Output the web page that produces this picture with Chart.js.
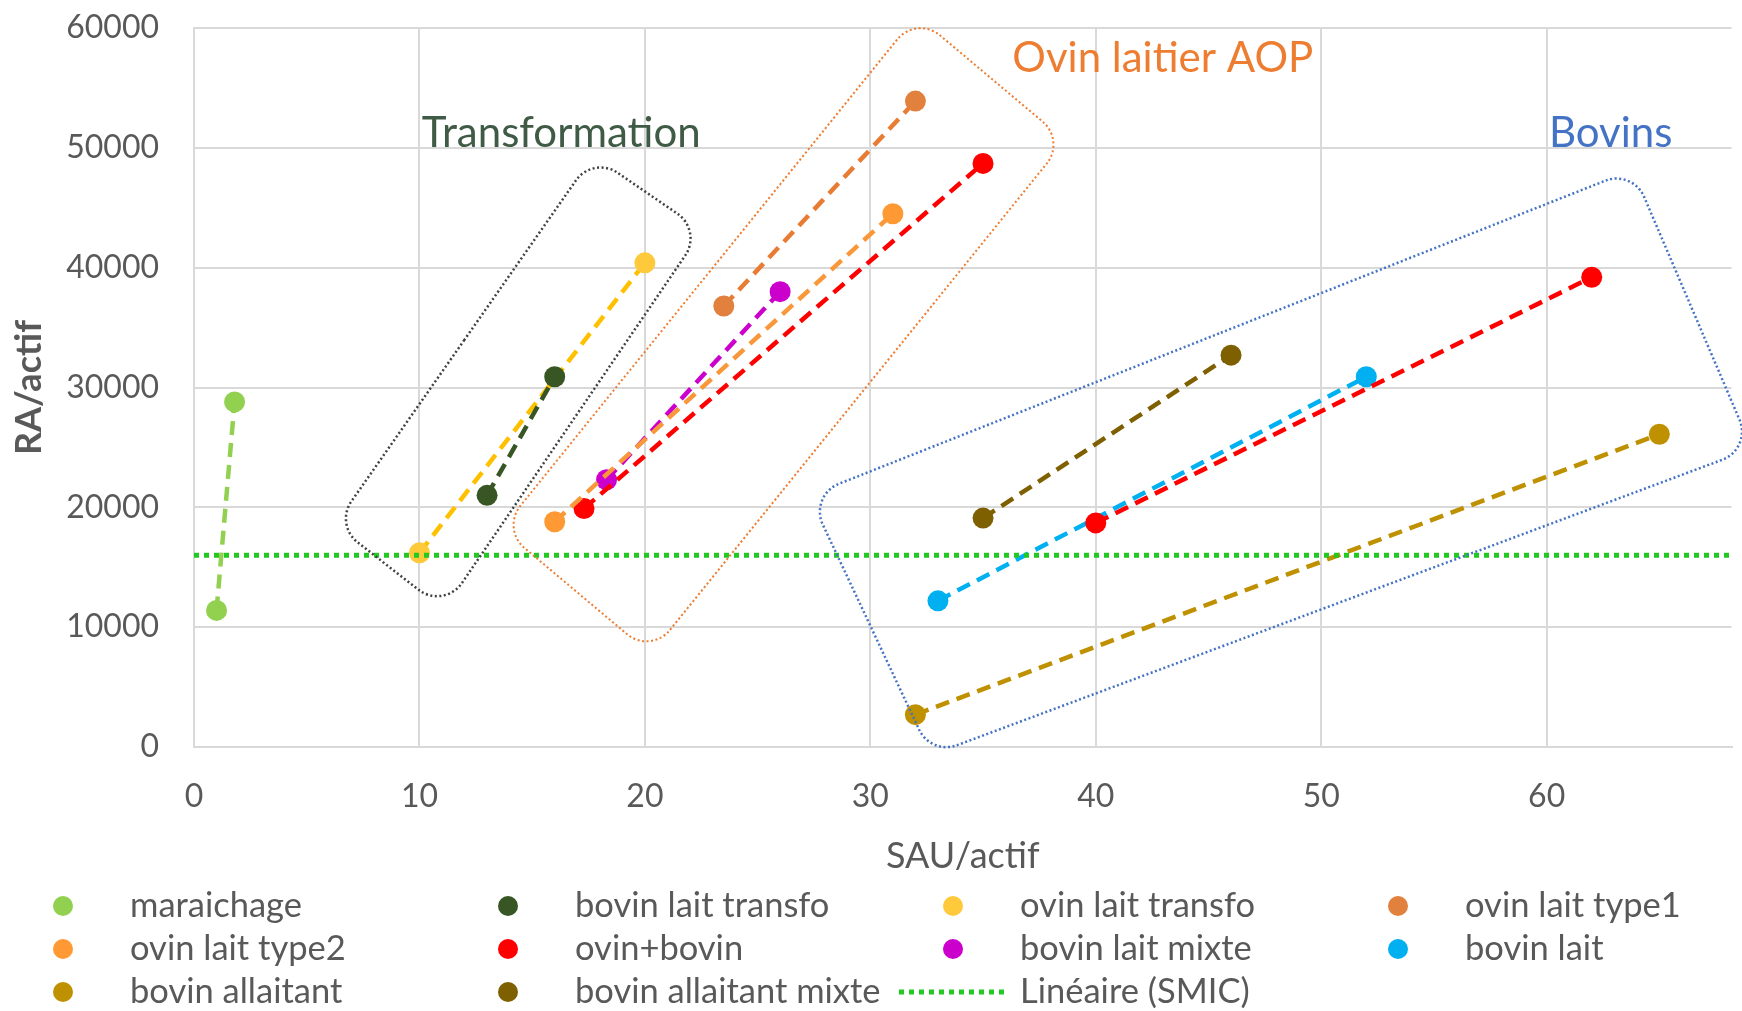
<!DOCTYPE html>
<html>

<head>
  <title>RA/actif vs SAU/actif</title>
  <script src="https://cdn.jsdelivr.net/npm/chart.js"></script>
  <style>
    html, body { margin: 0; padding: 0; background: #fff; overflow: hidden; }
    #wrap { width: 1742px; height: 1011px; position: relative; }
    canvas { display: block; }
  </style>
</head>

<body>
  <div id="wrap"><canvas id="myChart"></canvas></div>
  <script>

    // [SAU/actif, RA/actif] pairs
    let maraichage = [[1.0, 11400], [1.8, 28800]];
    let bovinLaitTransfo = [[13.0, 21000], [16.0, 30900]];
    let ovinLaitTransfo = [[10.0, 16200], [20.0, 40400]];
    let ovinLaitType1 = [[23.5, 36800], [32.0, 53900]];
    let ovinLaitType2 = [[16.0, 18800], [31.0, 44500]];
    let ovinBovin = [[17.3, 19900], [35.0, 48700], null, [40.0, 18700], [62.0, 39200]];
    let bovinLaitMixte = [[18.3, 22300], [26.0, 38000]];
    let bovinLait = [[33.0, 12200], [52.0, 30900]];
    let bovinAllaitant = [[32.0, 2700], [65.0, 26100]];
    let bovinAllaitantMixte = [[35.0, 19100], [46.0, 32700]];
    let smic = [[0, 16000], [70, 16000]];

    let xTicks = [0, 10, 20, 30, 40, 50, 60];
    let yTicks = [0, 10000, 20000, 30000, 40000, 50000, 60000];

    const FONT = 'Lato';
    const GREY = '#595959';

    function toPoints(arr) {
      return arr.map(p => p ? { x: p[0], y: p[1] } : { x: null, y: null });
    }

    function series(label, arr, color, pointColor) {
      return {
        label: label,
        data: toPoints(arr),
        showLine: true,
        borderColor: color,
        backgroundColor: pointColor || color,
        pointBackgroundColor: pointColor || color,
        pointBorderWidth: 0,
        pointRadius: 10.5,
        pointHoverRadius: 10.5,
        borderWidth: 4.5,
        borderDash: [14, 8],
        spanGaps: false
      };
    }

    let datasets = [
      series('maraichage', maraichage, '#92D050'),
      series('bovin lait transfo', bovinLaitTransfo, '#375623'),
      series('ovin lait transfo', ovinLaitTransfo, '#FFC000', '#FFC93C'),
      series('ovin lait type1', ovinLaitType1, '#E97C35', '#E2803E'),
      series('ovin lait type2', ovinLaitType2, '#F9983A', '#FF9933'),
      series('ovin+bovin', ovinBovin, '#FF0000'),
      series('bovin lait mixte', bovinLaitMixte, '#CC00CC'),
      series('bovin lait', bovinLait, '#00B0F0'),
      series('bovin allaitant', bovinAllaitant, '#BF9000'),
      series('bovin allaitant mixte', bovinAllaitantMixte, '#7F6000'),
      {
        label: 'Linéaire (SMIC)',
        data: toPoints(smic),
        showLine: true,
        borderColor: '#22C922',
        borderWidth: 5,
        borderDash: [5, 5],
        pointRadius: 0,
        isTrend: true,
        order: -1
      }
    ];

    // group outlines drawn over the plot (corners in data units)
    let groups = [
      { text: 'Transformation', color: '#3F5A45', boxColor: '#404040', width: 2.5,
        label: [10.1, 51200], box: [[17.8, 48300], [22.0, 42900], [11.0, 12500], [6.8, 18700]] },
      { text: 'Ovin laitier AOP', color: '#ED7D31', boxColor: '#ED7D31', width: 2,
        label: [36.3, 57500], box: [[32.1, 60000], [38.1, 50500], [20.2, 8800], [14.2, 18300]] },
      { text: 'Bovins', color: '#4472C4', boxColor: '#4472C4', width: 2.5,
        label: [60.1, 51200], box: [[63.6, 47200], [68.6, 25300], [32.9, 300], [27.8, 20600]] }
    ];

    const groupPlugin = {
      id: 'groups',
      afterDatasetsDraw(chart) {
        const ctx = chart.ctx, xs = chart.scales.x, ys = chart.scales.y;
        const r = 30;
        groups.forEach(g => {
          let pts = g.box.map(p => [xs.getPixelForValue(p[0]), ys.getPixelForValue(p[1])]);
          // push measured (rounded) apexes out to the sharp corners
          pts = pts.map((c, i) => {
            const a = pts[(i + 3) % 4], b = pts[(i + 1) % 4];
            let ux = a[0] - c[0], uy = a[1] - c[1], ul = Math.hypot(ux, uy);
            let vx = b[0] - c[0], vy = b[1] - c[1], vl = Math.hypot(vx, vy);
            let bx = ux / ul + vx / vl, by = uy / ul + vy / vl, bl = Math.hypot(bx, by);
            const d = r * (Math.SQRT2 - 1);
            return [c[0] - bx / bl * d, c[1] - by / bl * d];
          });
          ctx.save();
          ctx.beginPath();
          const m = [(pts[3][0] + pts[0][0]) / 2, (pts[3][1] + pts[0][1]) / 2];
          ctx.moveTo(m[0], m[1]);
          for (let i = 0; i < 4; i++) {
            const c = pts[i], n = pts[(i + 1) % 4];
            ctx.arcTo(c[0], c[1], n[0], n[1], r);
          }
          ctx.closePath();
          ctx.setLineDash([2, 2.5]);
          ctx.lineWidth = g.width;
          ctx.strokeStyle = g.boxColor;
          ctx.stroke();
          ctx.setLineDash([]);
          ctx.font = '42px ' + FONT;
          ctx.fillStyle = g.color;
          ctx.textBaseline = 'middle';
          ctx.textAlign = 'left';
          ctx.fillText(g.text, xs.getPixelForValue(g.label[0]), ys.getPixelForValue(g.label[1]));
          ctx.restore();
        });
      }
    };

    // legend laid out as a 4 column grid under the axis title
    const gridLegend = {
      id: 'gridLegend',
      afterDraw(chart) {
        const ctx = chart.ctx;
        const colStart = 41, colWidth = 445, rowTop = 906, rowHeight = 43;
        ctx.save();
        ctx.font = '34.5px ' + FONT;
        ctx.textBaseline = 'middle';
        ctx.textAlign = 'left';
        chart.data.datasets.forEach((ds, i) => {
          const col = i % 4, row = Math.floor(i / 4);
          const x = colStart + col * colWidth, y = rowTop + row * rowHeight;
          const tx = x + 89;
          if (ds.isTrend) {
            ctx.beginPath();
            ctx.setLineDash(ds.borderDash);
            ctx.lineWidth = ds.borderWidth;
            ctx.strokeStyle = ds.borderColor;
            ctx.moveTo(tx - 121, y);
            ctx.lineTo(tx - 13, y);
            ctx.stroke();
            ctx.setLineDash([]);
          } else {
            ctx.beginPath();
            ctx.fillStyle = ds.pointBackgroundColor;
            ctx.arc(x + 22, y, 10, 0, Math.PI * 2);
            ctx.fill();
          }
          ctx.fillStyle = GREY;
          ctx.fillText(ds.label, tx, y);
        });
        ctx.restore();
      }
    };

    let ctx = document.getElementById('myChart').getContext('2d');
    let myChart = new Chart(ctx, {
      type: 'scatter',
      data: { datasets: datasets },
      plugins: [groupPlugin, gridLegend],
      options: {
        responsive: true,
        maintainAspectRatio: false,
        animation: false,
        layout: { padding: { left: 0, right: 0, top: 28, bottom: 133 } },
        plugins: {
          legend: { display: false },
          tooltip: { enabled: false }
        },
        scales: {
          x: {
            type: 'linear',
            min: 0,
            max: 68.2,
            afterBuildTicks: axis => { axis.ticks = xTicks.map(v => ({ value: v })); },
            afterFit: axis => {
              axis.height = 131;
              axis.paddingLeft = 0;
              axis.paddingRight = 0;
            },
            ticks: { color: GREY, font: { family: FONT, size: 32 }, padding: 30, maxRotation: 0, callback: v => String(v) },
            grid: { color: '#D9D9D9', lineWidth: 2, drawTicks: false },
            border: { color: '#D9D9D9', width: 2 },
            title: { display: true, text: 'SAU/actif', color: GREY, font: { family: FONT, size: 36 }, padding: { top: 0, bottom: 0 } }
          },
          y: {
            min: 0,
            max: 60000,
            afterBuildTicks: axis => { axis.ticks = yTicks.map(v => ({ value: v })); },
            afterFit: axis => {
              axis.width = 194;
              axis.paddingTop = 0;
              axis.paddingBottom = 0;
            },
            ticks: { color: GREY, font: { family: FONT, size: 32 }, padding: 35, callback: v => String(v) },
            grid: { color: '#D9D9D9', lineWidth: 2, drawTicks: false },
            border: { color: '#D9D9D9', width: 2 },
            title: { display: true, text: 'RA/actif', color: GREY, font: { family: FONT, size: 36, weight: 'bold' }, padding: { top: 8, bottom: 0 } }
          }
        }
      }
    });

  </script>
</body>

</html>
